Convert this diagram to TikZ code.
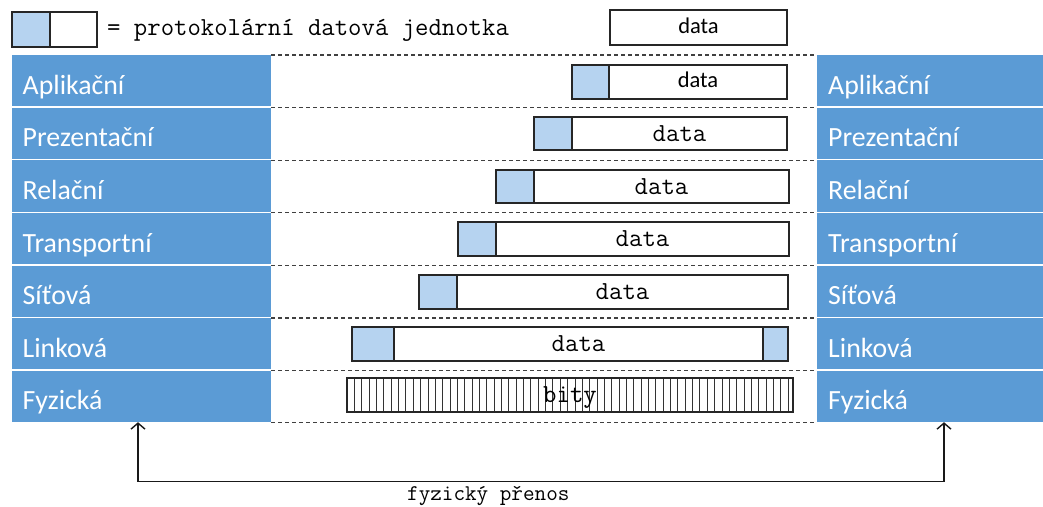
\documentclass[tikz,border=0pt]{standalone}
\usepackage{fontspec}
\setmainfont{Carlito}
\newfontfamily\sansfam{Carlito}
\usetikzlibrary{arrows.meta}

\definecolor{layerblue}{HTML}{5B9BD5}
\definecolor{hdrblue}{HTML}{B6D3F0}
\definecolor{rulegray}{HTML}{404040}

\newcommand\layerfont{\sansfam\fontsize{27.8}{31}\selectfont}
\newcommand\monobig{\ttfamily\fontsize{26}{28}\selectfont}
\newcommand\monosmall{\ttfamily\fontsize{22.5}{25}\selectfont}
\newcommand\sansdata{\sansfam\fontsize{22.5}{25}\selectfont}

\begin{document}
\begin{tikzpicture}[x=1pt,y=-1pt,
  layer/.style={fill=layerblue, text=white, anchor=north west, inner ysep=0pt,
    minimum height=51.2pt, font=\layerfont, text height=27pt, text depth=0pt, align=left},
  leftlayer/.style={layer, inner xsep=10.5pt, text width=238pt},
  rightlayer/.style={layer, inner xsep=11pt, text width=204pt},
  seg/.style={draw=black!85, line width=1.2pt, anchor=north west, inner sep=0pt,
    outer sep=0pt, minimum height=34pt},
  hdr/.style={seg, fill=hdrblue},
  body/.style={seg, fill=white, font=\monobig, text height=15pt, text depth=0pt},
  sbody/.style={seg, fill=white, font=\sansdata, text height=11pt, text depth=0pt},
  sep/.style={draw=rulegray, line width=1.1pt, dash pattern=on 4pt off 3pt},
  link/.style={draw=black!90, line width=1.4pt,
    arrows={Straight Barb[length=6pt,width=14pt]-Straight Barb[length=6pt,width=14pt]}}
]
\useasboundingbox (0,0) rectangle (1043,506);

% legend
\node[hdr, minimum width=38pt, minimum height=35pt] (lh) at (12,12) {};
\node[seg, fill=white, minimum width=47pt, minimum height=35pt] (lb) at (lh.north east) {};
\node[font=\monobig, anchor=base west, inner sep=0pt] (lt) at (107,35) {= protokolární datová jednotka};

% plain data on top
\node[sbody, minimum width=177pt, minimum height=35pt] (top) at (610,10) {data};

% layer columns
\foreach \n/\name [count=\i from 0] in {1/Aplikační,2/Prezentační,3/Relační,4/Transportní,5/Síťová,6/Linková,7/Fyzická}{
  \node[leftlayer] (l\n) at (12,55+52.6*\i) {\name};
  \node[rightlayer] (r\n) at (817,55+52.6*\i) {\name};
}

% dashed layer boundaries
\foreach \n in {1,...,7}{
  \draw[sep] (l\n.north east) -- (r\n.north west);
}
\draw[sep] (l7.south east) -- (r7.south west);

% encapsulated units
\node[hdr, minimum width=37pt] (h1) at (572,65) {};
\node[sbody, minimum width=178pt] (d1) at (h1.north east) {data};

\node[hdr, minimum width=38pt, minimum height=33pt] (h2) at (534,117) {};
\node[body, minimum width=215pt, minimum height=33pt] (d2) at (h2.north east) {data};

\node[hdr, minimum width=38pt, minimum height=33pt] (h3) at (496,170) {};
\node[body, minimum width=255pt, minimum height=33pt] (d3) at (h3.north east) {data};

\node[hdr, minimum width=38pt] (h4) at (458,222) {};
\node[body, minimum width=293pt] (d4) at (h4.north east) {data};

\node[hdr, minimum width=38pt] (h5) at (419,275) {};
\node[body, minimum width=331pt] (d5) at (h5.north east) {data};

\node[hdr, minimum width=42pt] (h6) at (352,327) {};
\node[body, minimum width=369pt] (d6) at (h6.north east) {data};
\node[hdr, minimum width=25pt] (t6) at (d6.north east) {};

% bit stream
\node[body, minimum width=446pt,
  path picture={
    \foreach \k in {1,...,60}
      \draw[line width=0.7pt, black!80]
        ([xshift=\k*7.35pt]path picture bounding box.north west) --
        ([xshift=\k*7.35pt]path picture bounding box.south west);
  }] (b7) at (347,378) {bity};

% physical transfer
\draw[link] ([xshift=126pt]l7.south west) -- ++(0,59) -| ([xshift=127pt]r7.south west);
\node[font=\monosmall, anchor=base west, inner sep=0pt] (ft) at (407,500) {fyzický přenos};
\end{tikzpicture}
\end{document}
